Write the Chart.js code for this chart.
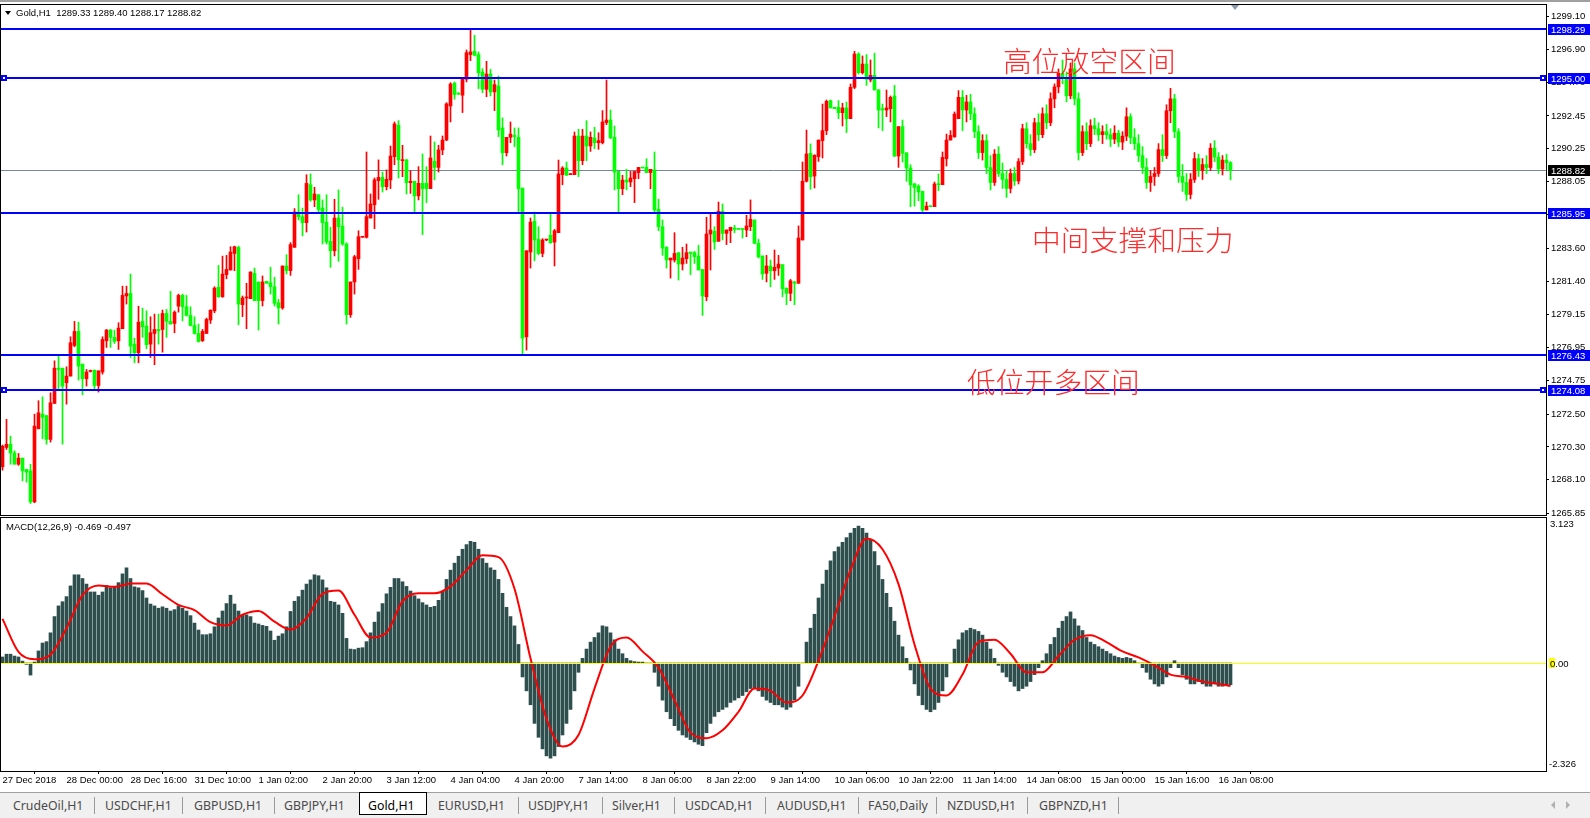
<!DOCTYPE html>
<html>
<head>
<meta charset="utf-8">
<script src="https://cdn.jsdelivr.net/npm/chart.js@4.4.1/dist/chart.umd.min.js"></script>
<style>
html, body { margin: 0; padding: 0; width: 1590px; height: 818px; overflow: hidden; background: #fff; font-family: "Liberation Sans", Arial, sans-serif; }
#topline { position: absolute; left: 0; top: 0; width: 1590px; height: 2px; background: #a0a0a0; }
#main { position: absolute; left: 0; top: 0; }
#macd { position: absolute; left: 0; top: 516px; }
#hdr { position: absolute; left: 16px; top: 7px; font-size: 9.5px; line-height: 11px; color: #000; white-space: pre; }
#hdrTri { position: absolute; left: 5px; top: 11px; width: 0; height: 0; border-left: 3.5px solid transparent; border-right: 3.5px solid transparent; border-top: 4px solid #000; }
#shift { position: absolute; left: 1231px; top: 5px; width: 0; height: 0; border-left: 4.5px solid transparent; border-right: 4.5px solid transparent; border-top: 5px solid #8a9aa8; }
#macdTitle { position: absolute; left: 6px; top: 521px; font-size: 9.5px; line-height: 11px; color: #000; white-space: pre; }
.note { position: absolute; color: #ff2a2a; font-family: "Noto Sans CJK SC", sans-serif; font-size: 28.8px; line-height: 30px; white-space: nowrap; font-weight: 300; }
#tabs { position: absolute; left: 0; top: 792px; width: 1590px; height: 26px; background: #f0f0f0; border-top: 1px solid #a0a0a0; }
.tab { position: absolute; top: 5px; font-family: "Noto Sans", "Open Sans", sans-serif; font-size: 12.3px; line-height: 16px; color: #4a4a4a; white-space: nowrap; }
.sep { position: absolute; top: 4px; width: 1px; height: 17px; background: #9a9a9a; }
#active { position: absolute; left: 359px; top: -1px; width: 66px; height: 21px; background: #fff; border: 1px solid #000; }
.arr { position: absolute; top: 8px; width: 0; height: 0; border-top: 4px solid transparent; border-bottom: 4px solid transparent; }
</style>
</head>
<body>
<div id="topline"></div>
<canvas id="main" width="1590" height="517"></canvas>
<canvas id="macd" width="1590" height="274"></canvas>
<div id="hdrTri"></div>
<div id="hdr"></div>
<div id="shift"></div>
<div id="macdTitle"></div>
<div class="note" style="left:1003px; top:45px;">高位放空区间</div>
<div class="note" style="left:1032px; top:224px;">中间支撑和压力</div>
<div class="note" style="left:967px; top:366px;">低位开多区间</div>
<div id="tabs">
  <div id="active"></div>
  <div class="tab" style="left:13px">CrudeOil,H1</div><div class="sep" style="left:94px"></div>
  <div class="tab" style="left:105px">USDCHF,H1</div><div class="sep" style="left:182px"></div>
  <div class="tab" style="left:194px">GBPUSD,H1</div><div class="sep" style="left:274px"></div>
  <div class="tab" style="left:284px">GBPJPY,H1</div>
  <div class="tab" style="left:368px; color:#000">Gold,H1</div>
  <div class="tab" style="left:438px">EURUSD,H1</div><div class="sep" style="left:518px"></div>
  <div class="tab" style="left:528px">USDJPY,H1</div><div class="sep" style="left:602px"></div>
  <div class="tab" style="left:612px">Silver,H1</div><div class="sep" style="left:674px"></div>
  <div class="tab" style="left:685px">USDCAD,H1</div><div class="sep" style="left:765px"></div>
  <div class="tab" style="left:777px">AUDUSD,H1</div><div class="sep" style="left:858px"></div>
  <div class="tab" style="left:868px">FA50,Daily</div><div class="sep" style="left:936px"></div>
  <div class="tab" style="left:947px">NZDUSD,H1</div><div class="sep" style="left:1027px"></div>
  <div class="tab" style="left:1039px">GBPNZD,H1</div><div class="sep" style="left:1118px"></div>
  <div class="arr" style="left:1551px; border-right:4px solid #b0b0b0;"></div>
  <div class="arr" style="left:1566px; border-left:4px solid #b0b0b0;"></div>
</div>
<script>
// === Data: Gold H1 candles (27 Dec 2018 - 16 Jan 2019) ===
const opens = [
  1268.97,1270.26,1270.48,1269.90,1269.14,1269.55,1268.79,1268.70,1266.62,1271.51,
  1272.49,1272.40,1270.80,1273.21,1275.57,1275.57,1274.59,1275.04,1277.09,1278.03,
  1275.84,1274.86,1275.35,1275.44,1274.41,1275.31,1277.40,1278.12,1277.63,1277.40,
  1278.21,1280.40,1280.57,1277.18,1276.60,1278.70,1278.39,1277.18,1277.89,1278.16,
  1278.16,1279.23,1278.70,1278.56,1279.72,1280.44,1279.68,1279.10,1278.43,1277.89,
  1277.40,1277.89,1278.79,1279.41,1280.98,1280.35,1281.83,1282.14,1283.25,1283.65,
  1279.82,1280.27,1280.22,1281.92,1281.34,1280.09,1281.38,1281.29,1281.02,1279.95,
  1279.60,1282.41,1282.10,1283.66,1286.02,1285.71,1285.31,1287.85,1286.83,1287.18,
  1286.29,1285.35,1284.06,1283.43,1285.62,1285.09,1283.88,1279.15,1281.34,1282.90,
  1284.33,1284.33,1285.62,1286.51,1288.12,1288.34,1287.72,1288.17,1289.73,1291.83,
  1289.46,1289.51,1287.99,1288.08,1287.10,1287.94,1287.94,1287.59,1289.42,1289.01,
  1290.18,1290.84,1293.12,1294.64,1293.97,1293.84,1294.91,1296.56,1296.78,1296.56,
  1295.40,1294.24,1295.26,1294.06,1294.46,1291.65,1289.99,1291.02,1291.15,1291.02,
  1287.63,1277.67,1283.34,1285.40,1284.19,1283.25,1284.15,1284.46,1284.01,1284.64,
  1288.52,1288.97,1288.52,1288.52,1291.11,1289.46,1291.11,1290.44,1290.98,1290.66,
  1290.66,1292.01,1292.18,1291.02,1288.74,1287.58,1288.16,1288.03,1288.25,1288.66,
  1289.01,1289.01,1288.66,1288.83,1286.20,1285.04,1283.66,1282.81,1282.81,1283.30,
  1282.54,1282.90,1283.34,1283.30,1283.08,1282.18,1280.35,1284.55,1284.73,1284.06,
  1286.07,1284.59,1284.77,1284.95,1284.91,1284.91,1284.82,1285.04,1285.49,1283.92,
  1283.08,1281.92,1282.41,1282.09,1282.27,1282.50,1280.93,1280.58,1281.34,1281.25,
  1284.15,1288.08,1289.95,1288.43,1289.73,1290.80,1291.47,1293.48,1293.03,1293.03,
  1292.67,1292.99,1292.27,1294.37,1296.60,1295.35,1295.93,1294.86,1295.17,1294.19,
  1292.94,1292.85,1292.94,1293.79,1289.77,1291.74,1289.99,1288.97,1287.90,1287.76,
  1287.41,1286.16,1286.42,1286.38,1287.90,1287.85,1289.59,1290.84,1291.06,1292.27,
  1293.70,1292.85,1293.39,1292.60,1291.40,1290.00,1290.80,1289.00,1288.00,1289.90,
  1288.60,1288.20,1287.60,1288.60,1288.10,1289.40,1291.60,1290.60,1290.20,1292.00,
  1291.20,1292.60,1292.00,1293.60,1294.40,1295.30,1295.00,1293.80,1295.60,1293.60,
  1290.00,1291.40,1290.60,1291.80,1291.60,1291.20,1291.40,1291.20,1290.90,1291.30,
  1290.70,1291.10,1292.40,1291.00,1290.60,1289.80,1289.00,1288.00,1288.40,1288.60,
  1290.20,1289.80,1292.80,1293.60,1291.40,1288.40,1288.00,1287.20,1288.20,1289.60,
  1288.80,1289.20,1289.00,1290.30,1289.70,1288.90,1289.50,1289.33
];
const highs = [
  1270.42,1272.14,1271.02,1270.04,1269.86,1269.55,1268.79,1269.14,1272.49,1273.39,
  1273.65,1272.40,1273.92,1276.06,1276.42,1275.57,1275.66,1277.67,1278.70,1278.65,
  1275.84,1275.48,1275.44,1275.44,1275.39,1277.67,1278.16,1278.16,1278.12,1278.61,
  1281.06,1281.06,1281.87,1277.58,1279.72,1279.59,1279.41,1279.01,1279.19,1279.19,
  1279.46,1279.50,1280.71,1279.40,1280.53,1280.53,1280.44,1279.68,1279.01,1278.52,
  1278.16,1278.92,1279.46,1281.02,1282.45,1283.07,1283.12,1283.70,1283.74,1283.74,
  1280.40,1281.25,1282.01,1282.27,1281.34,1281.74,1281.38,1282.32,1281.65,1280.18,
  1282.41,1283.17,1283.97,1286.25,1287.18,1286.29,1288.52,1288.57,1287.68,1287.18,
  1286.83,1287.18,1285.00,1286.87,1287.50,1286.34,1283.97,1281.34,1283.12,1284.77,
  1284.37,1290.04,1287.23,1288.30,1289.51,1288.70,1288.84,1290.44,1292.05,1292.14,
  1290.49,1289.55,1288.79,1288.08,1289.06,1289.91,1289.06,1291.11,1290.71,1290.49,
  1291.11,1293.34,1294.68,1294.73,1294.01,1295.00,1296.87,1298.26,1297.85,1296.74,
  1295.62,1296.11,1295.57,1294.86,1295.13,1292.32,1291.02,1292.05,1291.65,1291.65,
  1287.63,1283.43,1285.62,1286.02,1285.04,1284.24,1284.19,1285.89,1284.86,1289.50,
  1289.06,1289.37,1288.61,1291.38,1291.56,1291.56,1292.14,1291.38,1291.69,1291.33,
  1292.81,1294.86,1292.85,1291.78,1288.74,1288.48,1288.88,1288.74,1288.74,1289.01,
  1289.01,1289.59,1288.88,1290.04,1286.87,1285.49,1283.70,1282.94,1284.64,1283.30,
  1283.66,1283.88,1283.34,1283.39,1283.79,1282.18,1285.67,1285.93,1285.04,1286.69,
  1286.56,1284.82,1285.00,1285.13,1284.91,1284.91,1285.80,1286.83,1285.49,1284.19,
  1283.08,1283.12,1282.81,1283.48,1283.12,1282.50,1280.93,1281.51,1281.38,1285.09,
  1289.37,1291.51,1290.58,1289.86,1290.84,1293.25,1293.52,1293.52,1293.03,1293.48,
  1293.30,1293.39,1294.59,1296.78,1296.69,1296.47,1296.56,1296.20,1296.65,1294.23,
  1293.25,1294.19,1293.79,1294.50,1291.74,1292.18,1289.99,1289.19,1287.94,1287.85,
  1287.41,1286.69,1286.42,1288.03,1288.57,1290.04,1291.24,1291.47,1292.72,1294.15,
  1294.15,1293.83,1293.90,1293.00,1291.80,1291.20,1291.20,1289.80,1290.20,1290.40,
  1289.30,1288.80,1288.90,1289.00,1289.60,1291.90,1292.00,1291.20,1292.30,1292.60,
  1293.00,1293.20,1294.00,1294.60,1295.60,1296.20,1295.40,1296.00,1296.00,1294.00,
  1291.80,1292.00,1292.20,1292.30,1292.00,1291.80,1291.90,1291.60,1291.80,1291.50,
  1291.40,1293.00,1292.60,1291.60,1291.20,1290.40,1289.60,1288.80,1289.00,1290.60,
  1291.20,1293.20,1294.30,1293.90,1291.60,1289.20,1288.60,1288.60,1290.00,1289.90,
  1289.60,1289.80,1290.60,1290.80,1290.00,1289.80,1289.90,1289.40
];
const lows = [
  1268.74,1270.13,1269.14,1269.14,1269.06,1268.03,1267.94,1266.51,1266.56,1271.51,
  1270.84,1270.48,1270.62,1273.21,1274.06,1270.48,1273.16,1275.04,1277.00,1274.77,
  1273.79,1274.37,1275.31,1274.06,1273.97,1275.17,1276.96,1276.96,1277.22,1276.82,
  1278.21,1279.86,1276.29,1275.93,1275.93,1277.63,1276.87,1276.29,1275.80,1277.18,
  1276.64,1277.63,1278.52,1277.94,1279.32,1278.74,1279.06,1278.39,1277.85,1277.31,
  1277.36,1277.89,1278.56,1279.28,1280.31,1280.31,1281.55,1282.14,1282.09,1278.47,
  1279.02,1278.21,1280.22,1280.09,1278.12,1279.73,1281.25,1280.53,1279.73,1278.52,
  1279.51,1281.87,1281.78,1283.66,1285.49,1284.42,1284.68,1286.74,1286.38,1285.93,
  1283.88,1283.88,1282.32,1283.08,1282.72,1283.79,1278.52,1278.97,1280.53,1282.18,
  1284.33,1284.28,1285.62,1284.91,1286.87,1287.36,1287.50,1287.59,1289.19,1288.30,
  1288.39,1287.23,1287.27,1286.02,1286.83,1284.51,1286.65,1287.59,1288.17,1288.70,
  1289.86,1290.80,1292.05,1293.57,1293.88,1292.68,1294.73,1296.16,1296.47,1294.28,
  1294.01,1293.74,1293.79,1292.81,1291.07,1289.19,1289.77,1290.66,1290.40,1285.93,
  1276.47,1276.78,1282.27,1282.76,1283.16,1283.03,1284.10,1283.92,1282.41,1284.64,
  1287.85,1288.48,1288.52,1288.52,1288.39,1289.19,1289.46,1290.08,1290.26,1290.22,
  1290.58,1291.87,1290.93,1287.50,1286.02,1287.18,1287.50,1287.72,1286.65,1288.25,
  1288.97,1288.66,1287.58,1285.98,1284.77,1283.12,1282.27,1281.60,1282.67,1281.47,
  1282.14,1282.58,1281.83,1282.58,1282.14,1279.10,1280.08,1282.14,1283.52,1284.06,
  1284.15,1283.84,1283.97,1284.64,1284.86,1284.28,1284.37,1284.77,1283.92,1282.94,
  1281.51,1281.34,1281.02,1281.51,1281.78,1280.35,1279.82,1280.08,1279.82,1281.25,
  1284.15,1288.03,1287.54,1287.63,1289.41,1289.64,1291.20,1292.99,1292.94,1292.27,
  1291.78,1291.34,1292.27,1294.28,1295.26,1295.26,1294.50,1294.73,1294.19,1291.65,
  1291.47,1292.41,1292.05,1289.73,1289.01,1289.37,1288.08,1286.38,1286.42,1286.78,
  1285.98,1286.16,1286.38,1286.38,1287.45,1287.85,1289.10,1290.84,1291.02,1292.27,
  1291.47,1292.05,1292.20,1291.00,1289.60,1289.50,1288.60,1287.50,1287.80,1288.40,
  1287.60,1287.00,1287.30,1287.80,1287.90,1289.20,1290.30,1289.80,1290.00,1290.80,
  1291.00,1291.60,1291.80,1293.00,1294.00,1294.60,1293.40,1293.60,1293.20,1289.50,
  1289.80,1290.20,1290.40,1291.20,1290.80,1290.60,1290.90,1290.40,1290.60,1290.40,
  1290.20,1290.80,1290.60,1290.20,1289.40,1288.60,1287.60,1287.40,1287.80,1288.40,
  1289.40,1289.60,1292.00,1291.00,1288.00,1287.40,1286.80,1286.90,1288.00,1288.40,
  1288.20,1288.60,1288.80,1289.40,1288.60,1288.50,1288.80,1288.17
];
const closes = [
  1270.35,1270.48,1269.90,1269.14,1269.55,1268.70,1268.61,1266.62,1271.69,1272.58,
  1272.27,1270.80,1273.25,1275.57,1275.48,1274.37,1275.04,1277.27,1278.03,1275.71,
  1274.86,1275.31,1275.39,1274.41,1275.39,1277.49,1278.12,1277.63,1277.36,1278.25,
  1280.44,1280.57,1277.05,1276.60,1278.65,1278.34,1277.14,1277.94,1278.16,1278.07,
  1279.23,1278.70,1278.52,1279.32,1280.44,1279.68,1279.10,1278.43,1277.89,1277.36,
  1278.03,1278.83,1279.46,1280.93,1280.35,1281.87,1282.18,1283.34,1283.70,1279.86,
  1280.27,1280.27,1282.01,1280.09,1280.09,1281.34,1281.25,1281.02,1279.91,1279.60,
  1282.41,1282.10,1283.84,1286.02,1285.71,1285.31,1287.94,1286.83,1287.23,1286.20,
  1285.31,1284.01,1283.43,1285.62,1285.04,1283.88,1279.15,1281.34,1283.03,1284.37,
  1284.37,1285.71,1286.56,1288.17,1288.34,1287.72,1288.21,1289.77,1291.92,1289.51,
  1289.51,1287.99,1288.08,1287.10,1287.94,1287.59,1287.59,1289.64,1289.01,1290.18,
  1290.84,1293.26,1294.59,1293.88,1293.92,1294.95,1296.69,1296.74,1296.51,1295.35,
  1294.24,1295.26,1294.06,1294.55,1291.51,1289.99,1291.02,1291.24,1291.07,1287.58,
  1277.58,1283.43,1285.35,1284.15,1283.25,1284.15,1284.19,1283.97,1284.77,1288.57,
  1288.97,1288.48,1288.57,1291.11,1289.46,1291.11,1290.44,1291.02,1290.66,1290.80,
  1292.05,1292.18,1290.98,1288.70,1287.58,1288.16,1288.03,1288.30,1288.74,1289.01,
  1288.97,1288.66,1288.88,1286.16,1285.04,1283.61,1282.81,1282.94,1283.25,1282.54,
  1282.94,1283.30,1283.25,1283.03,1282.14,1280.40,1284.55,1284.82,1284.01,1286.07,
  1284.59,1284.82,1285.00,1284.86,1284.86,1284.86,1285.09,1285.53,1283.92,1283.03,
  1281.87,1282.41,1282.09,1282.32,1282.54,1280.89,1280.58,1281.42,1281.25,1284.28,
  1288.08,1289.91,1288.39,1289.82,1290.84,1291.47,1293.43,1292.99,1292.94,1292.67,
  1292.99,1292.27,1294.37,1296.60,1295.35,1295.93,1294.91,1295.17,1294.19,1292.85,
  1292.85,1292.99,1293.70,1289.77,1291.74,1289.95,1288.97,1287.85,1287.67,1287.36,
  1286.16,1286.42,1286.38,1287.90,1287.85,1289.68,1290.84,1291.15,1292.58,1293.70,
  1292.85,1293.39,1292.60,1291.40,1290.00,1290.80,1289.00,1288.00,1289.90,1288.60,
  1288.20,1287.60,1288.60,1288.10,1289.40,1291.60,1290.60,1290.20,1292.00,1291.20,
  1292.60,1292.00,1293.60,1294.40,1295.30,1295.00,1293.80,1295.60,1293.60,1290.00,
  1291.40,1290.60,1291.80,1291.60,1291.20,1291.40,1291.20,1290.90,1291.30,1290.70,
  1291.10,1292.40,1291.00,1290.60,1289.80,1289.00,1288.00,1288.40,1288.60,1290.20,
  1289.80,1292.80,1293.60,1291.40,1288.40,1288.00,1287.20,1288.20,1289.60,1288.80,
  1289.20,1289.00,1290.30,1289.70,1288.90,1289.50,1289.33,1288.82
];

// MACD(12,26,9) main histogram, one value per candle
const macdHist = [
  0.13,0.19,0.19,0.15,0.13,0.04,-0.03,-0.26,0.02,0.26,
  0.43,0.46,0.65,1.00,1.23,1.32,1.43,1.66,1.90,1.90,
  1.82,1.70,1.53,1.53,1.46,1.53,1.67,1.62,1.64,1.73,
  1.92,2.05,1.82,1.64,1.62,1.56,1.40,1.27,1.23,1.18,
  1.21,1.18,1.12,1.15,1.23,1.18,1.12,1.02,0.86,0.71,
  0.61,0.61,0.63,0.78,0.97,1.12,1.28,1.46,1.27,1.12,
  1.04,1.04,1.00,0.86,0.84,0.81,0.79,0.69,0.49,0.58,
  0.63,0.78,1.11,1.33,1.43,1.57,1.70,1.79,1.90,1.88,
  1.79,1.62,1.33,1.31,1.25,1.07,0.53,0.30,0.29,0.32,
  0.33,0.46,0.65,0.88,1.10,1.28,1.49,1.63,1.82,1.82,
  1.75,1.65,1.55,1.45,1.38,1.30,1.25,1.20,1.22,1.35,
  1.55,1.80,2.00,2.15,2.30,2.45,2.55,2.62,2.60,2.45,
  2.25,2.15,2.05,2.00,1.80,1.50,1.20,1.00,0.80,0.40,
  -0.30,-0.60,-0.90,-1.30,-1.60,-1.85,-2.00,-2.05,-2.00,-1.80,
  -1.55,-1.30,-1.00,-0.60,-0.20,0.10,0.30,0.45,0.55,0.65,
  0.80,0.78,0.65,0.50,0.30,0.20,0.10,0.05,0.03,0.02,
  0.02,0.00,0.00,-0.20,-0.50,-0.80,-1.05,-1.20,-1.35,-1.45,
  -1.55,-1.60,-1.65,-1.70,-1.75,-1.78,-1.50,-1.30,-1.15,-1.05,
  -1.00,-0.95,-0.85,-0.80,-0.75,-0.70,-0.62,-0.55,-0.55,-0.60,
  -0.72,-0.80,-0.85,-0.90,-0.90,-0.95,-1.00,-0.95,-0.80,-0.50,
  0.00,0.45,0.75,1.05,1.40,1.70,2.00,2.20,2.40,2.50,
  2.60,2.70,2.80,2.90,2.95,2.90,2.80,2.65,2.40,2.10,
  1.80,1.50,1.20,0.90,0.60,0.35,0.10,-0.15,-0.45,-0.70,
  -0.90,-1.00,-1.05,-1.00,-0.85,-0.60,-0.30,0.00,0.30,0.50,
  0.65,0.70,0.75,0.72,0.68,0.60,0.45,0.30,0.10,-0.05,
  -0.20,-0.30,-0.40,-0.50,-0.60,-0.55,-0.50,-0.40,-0.25,-0.10,
  0.05,0.20,0.40,0.55,0.75,0.90,1.00,1.10,0.95,0.80,
  0.70,0.55,0.45,0.40,0.35,0.30,0.25,0.20,0.15,0.12,
  0.10,0.12,0.10,0.05,0.00,-0.10,-0.20,-0.35,-0.45,-0.50,
  -0.45,-0.30,-0.10,0.05,-0.10,-0.25,-0.35,-0.45,-0.45,-0.40,
  -0.45,-0.50,-0.50,-0.45,-0.50,-0.50,-0.47,-0.469
];

const signalBars = [
  0,4,8,12,16,20,24,28,32,36,40,44,48,52,56,60,64,68,72,76,
  80,84,88,92,96,100,104,108,112,116,120,124,128,132,136,140,144,148,152,156,
  160,164,168,172,176,180,184,188,192,196,200,204,208,212,216,220,224,228,232,236,
  240,244,248,252,256,260,264,268,272,276,280,284,288,292,296,300,304,307
];
const signalValues = [
  0.95,0.24,0.08,0.18,0.75,1.46,1.67,1.64,1.71,1.71,1.48,1.25,1.14,0.88,0.81,1.04,1.12,0.89,0.72,0.97,
  1.49,1.56,1.04,0.55,0.65,1.33,1.50,1.50,1.65,2.00,2.32,2.28,1.60,0.10,-1.20,-1.80,-1.55,-0.55,0.35,0.55,
  0.25,-0.10,-0.80,-1.50,-1.62,-1.45,-1.05,-0.55,-0.60,-0.85,-0.70,0.05,1.00,2.00,2.68,2.45,1.70,0.40,-0.55,-0.70,
  -0.25,0.45,0.50,0.20,-0.20,-0.20,0.15,0.50,0.60,0.45,0.25,0.12,-0.05,-0.25,-0.30,-0.40,-0.45,-0.497
];

// horizontal levels drawn on the chart
const levels = [1298.29, 1295.00, 1285.95, 1276.43, 1274.08];
const levelHandles = [false, true, false, false, true];
const bidPrice = 1288.82;

// axis ticks and labels
const priceTicks = [1299.10,1296.90,1294.70,1292.45,1290.25,1288.05,1285.85,1283.60,
                    1281.40,1279.15,1276.95,1274.75,1272.50,1270.30,1268.10,1265.85];
const priceMin = 1265.74, priceMax = 1299.88;
const macdMax = 3.123, macdMin = -2.326;
const dateTickBars = [0,16,32,48,64,80,96,112,128,144,160,176,192,208,224,240,256,272,288,304];
const dateLabels = ['27 Dec 2018','28 Dec 00:00','28 Dec 16:00','31 Dec 10:00','1 Jan 02:00',
  '2 Jan 20:00','3 Jan 12:00','4 Jan 04:00','4 Jan 20:00','7 Jan 14:00','8 Jan 06:00',
  '8 Jan 22:00','9 Jan 14:00','10 Jan 06:00','10 Jan 22:00','11 Jan 14:00','14 Jan 08:00',
  '15 Jan 00:00','15 Jan 16:00','16 Jan 08:00'];

// === Layout ===
const AXIS_W = 44;
const BAR_PX = 4;            // MT4 zoom: 4 px per candle
const xMin = -0.375;
const xMax = xMin + (1590 - AXIS_W - 1) / BAR_PX;
const FONT = '"Liberation Sans", Arial, sans-serif';

Chart.defaults.font.family = FONT;
Chart.defaults.font.size = 9.5;
Chart.defaults.color = '#000';

const n = closes.length;
document.getElementById('hdr').textContent =
  `Gold,H1  ${opens[n - 1].toFixed(2)} ${highs[n - 1].toFixed(2)} ${lows[n - 1].toFixed(2)} ${closes[n - 1].toFixed(2)}`;
document.getElementById('macdTitle').textContent =
  `MACD(12,26,9) ${macdHist[n - 1].toFixed(3)} ${signalValues[signalValues.length - 1].toFixed(3)}`;

// === Plugins ===
const frame = {
    id: 'frame',
    afterDraw(chart) {
        const { ctx, chartArea: a } = chart;
        ctx.save();
        ctx.strokeStyle = '#000';
        ctx.lineWidth = 1;
        ctx.strokeRect(a.left - 0.5, a.top - 0.5, a.right - a.left + 1, a.bottom - a.top + 1);
        ctx.restore();
    }
};

const priceLines = {
    id: 'priceLines',
    beforeDatasetsDraw(chart) {
        const { ctx, chartArea: a, scales: { y } } = chart;
        const py = Math.round(y.getPixelForValue(bidPrice)) + 0.5;
        ctx.save();
        ctx.strokeStyle = '#778899';
        ctx.lineWidth = 1;
        ctx.beginPath();
        ctx.moveTo(a.left, py);
        ctx.lineTo(a.right, py);
        ctx.stroke();
        ctx.restore();
    },
    afterDatasetsDraw(chart) {
        const { ctx, chartArea: a, scales: { y } } = chart;
        ctx.save();
        levels.forEach((lv, k) => {
            const py = Math.round(y.getPixelForValue(lv));
            ctx.fillStyle = '#0000ff';
            ctx.fillRect(a.left, py - 1, a.right - a.left, 2);
            if (levelHandles[k]) {
                [a.left, a.right - 6].forEach(hx => {
                    ctx.fillStyle = '#0000ff';
                    ctx.fillRect(hx, py - 3, 6, 6);
                    ctx.fillStyle = '#fff';
                    ctx.fillRect(hx + 2, py - 1, 2, 2);
                });
            }
        });
        ctx.restore();
    },
    afterDraw(chart) {
        const { ctx, chartArea: a, scales: { y } } = chart;
        const box = (v, bg) => {
            const py = Math.round(y.getPixelForValue(v));
            ctx.fillStyle = bg;
            ctx.fillRect(a.right + 2, py - 5, 42, 11);
            ctx.fillStyle = '#fff';
            ctx.font = '9.5px ' + FONT;
            ctx.textBaseline = 'middle';
            ctx.textAlign = 'left';
            ctx.fillText(v.toFixed(2), a.right + 5, py + 1);
        };
        ctx.save();
        levels.forEach(v => box(v, '#0000ff'));
        box(bidPrice, '#000');
        ctx.restore();
    }
};

const macdLevels = {
    id: 'macdLevels',
    afterDatasetsDraw(chart) {
        const { ctx, chartArea: a, scales: { y } } = chart;
        const py = Math.round(y.getPixelForValue(0)) + 0.5;
        ctx.save();
        ctx.strokeStyle = '#ffff00';
        ctx.lineWidth = 1;
        ctx.beginPath();
        ctx.moveTo(a.left, py);
        ctx.lineTo(a.right, py);
        ctx.stroke();
        ctx.restore();
    },
    afterDraw(chart) {
        const { ctx, chartArea: a, scales: { y } } = chart;
        const pz = Math.round(y.getPixelForValue(0));
        ctx.save();
        ctx.font = '9.5px ' + FONT;
        ctx.textBaseline = 'middle';
        ctx.textAlign = 'left';
        ctx.fillStyle = '#ffff00';
        ctx.fillRect(a.right + 3, pz - 5, 6, 10);
        ctx.fillStyle = '#000';
        ctx.fillText(macdMax.toFixed(3), a.right + 4, a.top + 6);
        ctx.fillText('0.00', a.right + 4, pz + 1);
        ctx.fillText(macdMin.toFixed(3), a.right + 3, a.bottom - 7);
        ctx.restore();
    }
};

// === Price chart ===
const candleColors = closes.map((c, i) => (c >= opens[i] ? '#ff0000' : '#00ff00'));

new Chart(document.getElementById('main'), {
    type: 'bar',
    data: {
        datasets: [
            {
                data: closes.map((c, i) => ({ x: i, y: [lows[i], highs[i]] })),
                backgroundColor: candleColors,
                barThickness: 1,
                grouped: false,
                order: 2
            },
            {
                data: closes.map((c, i) => ({ x: i, y: [opens[i], c] })),
                backgroundColor: candleColors,
                barThickness: 3,
                minBarLength: 1,
                grouped: false,
                order: 1
            }
        ]
    },
    options: {
        responsive: false,
        animation: false,
        devicePixelRatio: 1,
        events: [],
        layout: { padding: { left: 1, top: 5, right: 0, bottom: 2 } },
        plugins: { legend: { display: false }, tooltip: { enabled: false } },
        scales: {
            x: { type: 'linear', display: false, min: xMin, max: xMax, offset: false },
            y: {
                position: 'right',
                min: priceMin,
                max: priceMax,
                afterFit: s => { s.width = AXIS_W; s.paddingTop = 0; s.paddingBottom = 0; },
                afterBuildTicks: s => { s.ticks = priceTicks.map(v => ({ value: v })); },
                ticks: { autoSkip: false, padding: 2, callback: v => Number(v).toFixed(2) },
                grid: { drawOnChartArea: false, drawTicks: true, tickLength: 3, color: '#000' },
                border: { display: true, color: '#000' }
            }
        }
    },
    plugins: [frame, priceLines]
});

// === MACD chart ===
new Chart(document.getElementById('macd'), {
    type: 'bar',
    data: {
        datasets: [
            {
                type: 'line',
                data: signalBars.map((b, k) => ({ x: b, y: signalValues[k] })),
                borderColor: '#ff0000',
                borderWidth: 2,
                pointRadius: 0,
                cubicInterpolationMode: 'monotone',
                order: 0
            },
            {
                data: macdHist.map((v, i) => ({ x: i, y: v })),
                backgroundColor: '#2f4f4f',
                barThickness: 3,
                grouped: false,
                order: 1
            }
        ]
    },
    options: {
        responsive: false,
        animation: false,
        devicePixelRatio: 1,
        events: [],
        layout: { padding: { left: 1, top: 2, right: 0, bottom: 0 } },
        plugins: { legend: { display: false }, tooltip: { enabled: false } },
        scales: {
            x: {
                type: 'linear',
                min: xMin,
                max: xMax,
                offset: false,
                afterFit: s => { s.height = 19; s.paddingLeft = 0; s.paddingRight = 0; },
                afterBuildTicks: s => { s.ticks = dateTickBars.map(v => ({ value: v })); },
                ticks: { autoSkip: false, maxRotation: 0, align: 'start', padding: 1,
                         callback: (v, i) => dateLabels[i] },
                grid: { drawOnChartArea: false, drawTicks: true, tickLength: 3, color: '#000' },
                border: { display: true, color: '#000' }
            },
            y: {
                position: 'right',
                min: macdMin,
                max: macdMax,
                afterFit: s => { s.width = AXIS_W; s.paddingTop = 0; s.paddingBottom = 0; },
                ticks: { display: false },
                grid: { display: false },
                border: { display: true, color: '#000' }
            }
        }
    },
    plugins: [frame, macdLevels]
});
</script>
</body>
</html>
